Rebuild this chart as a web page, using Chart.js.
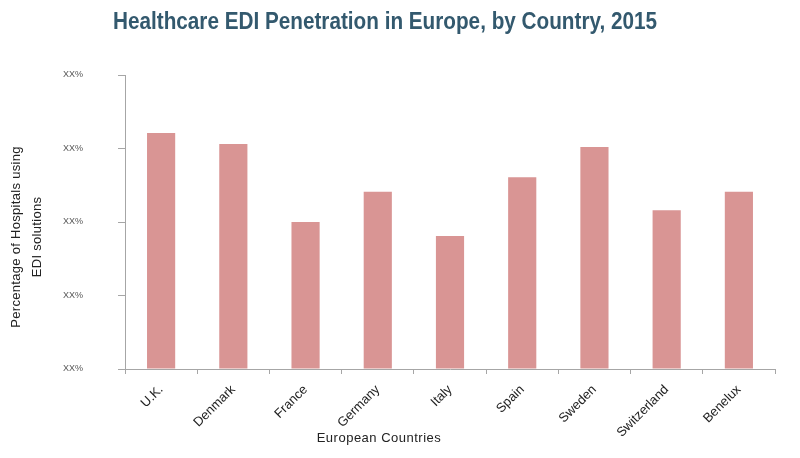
<!DOCTYPE html>
<html>
<head>
<meta charset="utf-8">
<script src="https://cdn.jsdelivr.net/npm/chart.js@4/dist/chart.umd.min.js"></script>
<style>
  html, body { margin: 0; padding: 0; background: #fff; }
  #wrap { width: 800px; height: 458px; }
</style>
</head>
<body>
<div id="wrap"><canvas id="chart" width="800" height="458"></canvas></div>
<script>
// Values (axis units: 0..4, every tick labelled "XX%")
const countries = ['U.K.', 'Denmark', 'France', 'Germany', 'Italy', 'Spain', 'Sweden', 'Switzerland', 'Benelux'];
const penetration = [3.21, 3.06, 2.0, 2.41, 1.81, 2.61, 3.02, 2.16, 2.41];
const tickLabel = 'XX%';

const chartTitle = 'Healthcare EDI Penetration in Europe, by Country, 2015';
const xTitle = 'European Countries';
const yTitle = ['Percentage of Hospitals using', 'EDI solutions'];

const COLORS = {
  bar: '#d99594',
  title: '#33596e',
  axis: '#a6a6a6',
  tick: '#555555',
  text: '#222222',
};

// titles are drawn by hand so they can sit where the reference puts them
const titlesPlugin = {
  id: 'titles',
  afterDraw(chart) {
    const ctx = chart.ctx;
    ctx.save();

    // main title, condensed look
    ctx.font = 'bold 24px "Liberation Sans Narrow", "Liberation Sans", sans-serif';
    ctx.fillStyle = COLORS.title;
    ctx.textBaseline = 'alphabetic';
    ctx.textAlign = 'left';
    const w = ctx.measureText(chartTitle).width;
    const target = 544;
    ctx.translate(113, 29);
    ctx.scale(target / w, 1);
    ctx.fillText(chartTitle, 0, 0);
    ctx.setTransform(1, 0, 0, 1, 0, 0);

    // x axis title
    ctx.font = '13px "Liberation Sans", Arial, sans-serif';
    ctx.letterSpacing = '0.5px';
    ctx.fillStyle = COLORS.text;
    ctx.textAlign = 'center';
    ctx.textBaseline = 'middle';
    ctx.fillText(xTitle, 379, 438);

    // y axis title, two lines
    ctx.font = '13px "Liberation Sans", Arial, sans-serif';
    ctx.letterSpacing = '0.3px';
    ctx.translate(0, 237);
    ctx.rotate(-Math.PI / 2);
    ctx.fillText(yTitle[0], 0, 16);
    ctx.fillText(yTitle[1], 0, 37);
    ctx.restore();
  }
};

new Chart(document.getElementById('chart'), {
  type: 'bar',
  data: {
    labels: countries,
    datasets: [{
      data: penetration,
      backgroundColor: COLORS.bar,
      borderWidth: 0,
      barPercentage: 0.39,
      categoryPercentage: 1.0,
    }],
  },
  options: {
    responsive: false,
    animation: false,
    layout: { padding: { top: 75, right: 25, left: 0, bottom: 0 } },
    plugins: {
      legend: { display: false },
      title: { display: false },
      tooltip: { enabled: false },
    },
    scales: {
      x: {
        afterFit: (s) => { s.height = 89; },
        grid: {
          offset: true,
          drawOnChartArea: false,
          drawTicks: true,
          tickLength: 5,
          color: COLORS.axis,
        },
        border: { color: COLORS.axis, width: 1 },
        ticks: {
          color: COLORS.text,
          font: { family: '"Liberation Sans", Arial, sans-serif', size: 13 },
          minRotation: 45,
          maxRotation: 45,
          padding: 8,
          autoSkip: false,
        },
      },
      y: {
        min: 0,
        max: 4,
        afterFit: (s) => { s.width = 125; },
        grid: {
          drawOnChartArea: false,
          drawTicks: true,
          tickLength: 7,
          color: COLORS.axis,
        },
        border: { color: COLORS.axis, width: 1 },
        ticks: {
          stepSize: 1,
          color: COLORS.tick,
          padding: 35,
          font: { family: '"Liberation Sans", Arial, sans-serif', size: 9 },
          callback: () => tickLabel,
        },
      },
    },
  },
  plugins: [titlesPlugin],
});
</script>
</body>
</html>
